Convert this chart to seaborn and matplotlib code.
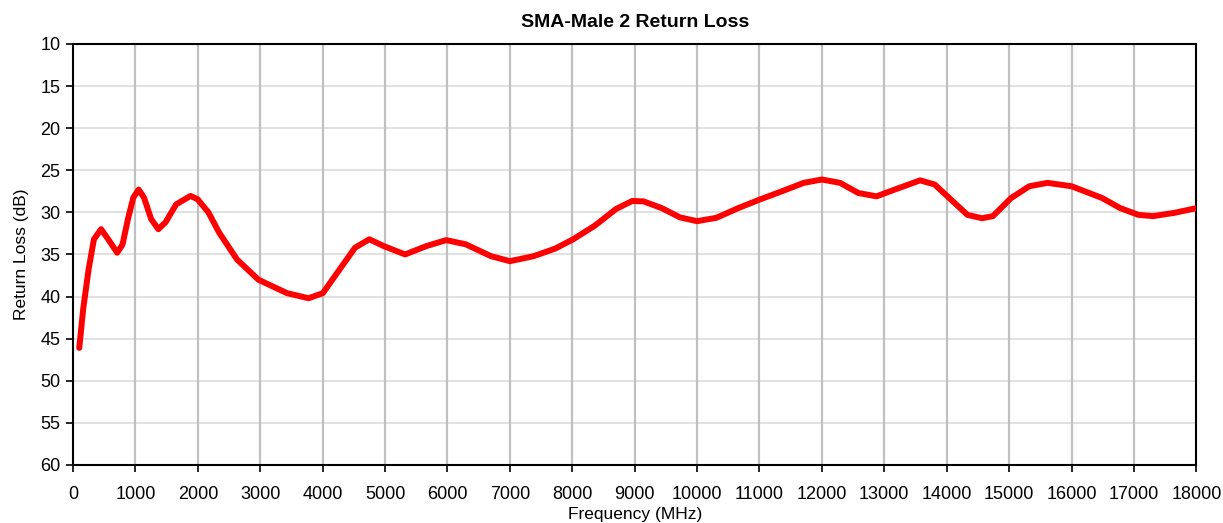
import numpy as np
import pandas as pd
import seaborn as sns
import matplotlib.pyplot as plt

# return loss readings (MHz, dB)
freq_mhz = [100, 163, 249, 335, 450, 564, 708, 794, 880, 966, 1052, 1138, 1252, 1367,
            1481, 1653, 1883, 1997, 2169, 2341, 2628, 2971, 3430, 3774, 4003, 4232,
            4519, 4748, 4977, 5321, 5665, 5980, 6295, 6696, 7000, 7384, 7728, 8014,
            8358, 8702, 8960, 9143, 9434, 9726, 10000, 10309, 10659, 10997, 11359,
            11708, 12000, 12292, 12583, 12875, 13166, 13574, 13808, 14041, 14332,
            14566, 14740, 15032, 15324, 15615, 16000, 16490, 16781, 17073, 17306,
            17656, 18000]
return_loss_db = [46.1, 41.5, 36.8, 33.2, 32.0, 33.2, 34.8, 33.8, 30.8, 28.25, 27.3, 28.25,
                  30.8, 32.0, 31.2, 29.05, 28.05, 28.45, 30.0, 32.4, 35.6, 38.0, 39.6,
                  40.2, 39.6, 37.2, 34.2, 33.2, 34.0, 35.0, 34.0, 33.3, 33.8, 35.2, 35.8,
                  35.2, 34.3, 33.2, 31.6, 29.6, 28.65, 28.7, 29.5, 30.6, 31.05, 30.65,
                  29.5, 28.5, 27.5, 26.5, 26.1, 26.5, 27.7, 28.1, 27.3, 26.2, 26.7, 28.3,
                  30.3, 30.7, 30.45, 28.3, 26.9, 26.5, 26.9, 28.3, 29.5, 30.3, 30.45,
                  30.05, 29.5]

df = pd.DataFrame({'Frequency (MHz)': freq_mhz, 'Return Loss (dB)': return_loss_db})

sns.set_style('white')
plt.rcParams['font.family'] = ['Liberation Sans', 'DejaVu Sans']
plt.rcParams['text.color'] = 'black'
plt.rcParams['axes.labelcolor'] = 'black'
plt.rcParams['xtick.color'] = 'black'
plt.rcParams['ytick.color'] = 'black'

fig = plt.figure(figsize=(12.23, 5.23), dpi=100)
ax = fig.add_axes([0.0597, 0.111, 0.9185, 0.805])

sns.lineplot(data=df, x='Frequency (MHz)', y='Return Loss (dB)', color='#ff0000',
             linewidth=4.3, ax=ax, zorder=3, solid_joinstyle='round',
             solid_capstyle='round')

ax.set_xlim(0, 18000)
ax.set_ylim(60, 10)
ax.set_xticks(np.arange(0, 18001, 1000))
ax.set_yticks(np.arange(10, 61, 5))
ax.grid(False)
for xv in np.arange(1000, 18000, 1000):
    ax.axvline(xv, color='#c0c0c0', lw=1.6, zorder=1)
for yv in np.arange(15, 60, 5):
    ax.axhline(yv, color='#d9d9d9', lw=1.1, zorder=0)

for sp in ax.spines.values():
    sp.set_color('black')
    sp.set_linewidth(1.5)
ax.tick_params(axis='both', direction='out', length=5, width=1.2, color='black',
               labelsize=13, bottom=True, left=True, pad=4)
ax.tick_params(axis='x', pad=10)

ax.set_title('SMA-Male 2 Return Loss', fontsize=14, fontweight='bold', pad=12)
ax.set_xlabel('Frequency (MHz)', fontsize=12.5, labelpad=3)
ax.set_ylabel('Return Loss (dB)', fontsize=12.5, labelpad=8)

fig.savefig('out.png', dpi=100)
